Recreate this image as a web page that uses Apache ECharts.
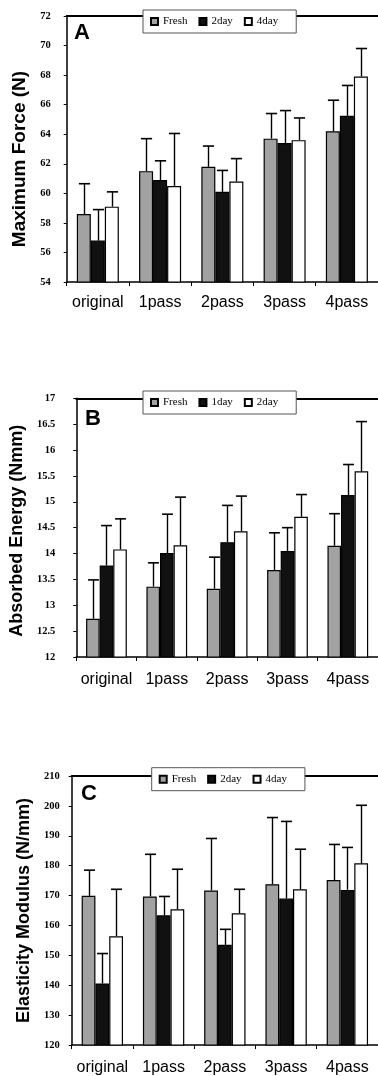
<!DOCTYPE html>
<html>
<head>
<meta charset="utf-8">
<script src="https://cdn.jsdelivr.net/npm/echarts@6/dist/echarts.min.js"></script>
<style>
html,body{margin:0;padding:0;background:#fff;}
#chart{width:378px;height:1076px;}
</style>
</head>
<body>
<div id="chart"></div>
<script>
// ---- data ----
const categories = ['original', '1pass', '2pass', '3pass', '4pass'];

// Panel A: Maximum Force (N)
const legendA = ['Fresh', '2day', '4day'];
const forceFresh = [58.6, 61.5, 61.8, 63.7, 64.2];
const forceFreshSD = [2.05, 2.2, 1.4, 1.7, 2.1];
const force2day = [56.8, 60.9, 60.1, 63.4, 65.25];
const force2daySD = [2.1, 1.3, 1.45, 2.2, 2.05];
const force4day = [59.1, 60.5, 60.8, 63.6, 67.9];
const force4daySD = [1.0, 3.55, 1.55, 1.5, 1.9];

// Panel B: Absorbed Energy (Nmm)
const legendB = ['Fresh', '1day', '2day'];
const energyFresh = [12.74, 13.36, 13.32, 13.68, 14.15];
const energyFreshSD = [0.75, 0.46, 0.61, 0.72, 0.62];
const energy1day = [13.77, 14.01, 14.22, 14.05, 15.13];
const energy1daySD = [0.77, 0.75, 0.71, 0.45, 0.59];
const energy2day = [14.08, 14.16, 14.43, 14.71, 15.59];
const energy2daySD = [0.59, 0.93, 0.68, 0.43, 0.96];

// Panel C: Elasticity Modulus (N/mm)
const legendC = ['Fresh', '2day', '4day'];
const modFresh = [169.9, 169.7, 171.7, 173.8, 175.2];
const modFreshSD = [8.6, 14.1, 17.4, 22.3, 11.9];
const mod2day = [140.6, 163.4, 153.5, 169.0, 171.9];
const mod2daySD = [10.0, 6.3, 5.2, 25.8, 14.2];
const mod4day = [156.4, 165.4, 164.1, 172.1, 180.8];
const mod4daySD = [15.7, 13.4, 8.0, 13.4, 19.4];

// ---- styles ----
const BARW = 0.225;
const serif = 'Liberation Serif';
const sans = 'Liberation Sans';
const barStyles = [
  { color: '#a2a2a2', borderColor: '#000', borderWidth: 1.2 },
  { color: '#111111', borderColor: '#000', borderWidth: 1.2 },
  { color: '#ffffff', borderColor: '#000', borderWidth: 1.2 }
];

const panels = [
  { key: 'A', title: 'Maximum Force (N)', legend: legendA, min: 54, max: 72, interval: 2,
    means: [forceFresh, force2day, force4day], sds: [forceFreshSD, force2daySD, force4daySD],
    grid: { left: 66.7, top: 16, width: 321.5, height: 266 }, yMargin: 16, xMargin: 13, nameGap: 34,
    nameSize: 19, namePad: [0, 20, 0, 0],
    legendPos: { left: 143, top: 10 }, label: { left: 74, top: 22 } },
  { key: 'B', title: 'Absorbed Energy (Nmm)', legend: legendB, min: 12, max: 17, interval: 0.5,
    means: [energyFresh, energy1day, energy2day], sds: [energyFreshSD, energy1daySD, energy2daySD],
    grid: { left: 75, top: 398.3, width: 313.5, height: 258.7 }, yMargin: 21, xMargin: 15, nameGap: 39,
    nameSize: 18, namePad: [0, 6, 0, 0],
    legendPos: { left: 143, top: 391 }, label: { left: 85, top: 408 } },
  { key: 'C', title: 'Elasticity Modulus (N/mm)', legend: legendC, min: 120, max: 210, interval: 10,
    means: [modFresh, mod2day, mod4day], sds: [modFreshSD, mod2daySD, mod4daySD],
    grid: { left: 71.7, top: 776, width: 314.5, height: 269 }, yMargin: 12, xMargin: 15, nameGap: 39,
    nameSize: 18, namePad: [0, 0, 0, 0],
    legendPos: { left: 151.7, top: 767.7 }, label: { left: 81, top: 783 } }
];

const option = {
  animation: false,
  backgroundColor: '#fff',
  grid: [], xAxis: [], yAxis: [], series: [], legend: [], title: []
};

panels.forEach((p, g) => {
  option.grid.push(Object.assign({ containLabel: false }, p.grid));
  option.xAxis.push({
    type: 'category', gridIndex: g, data: categories, position: 'bottom',
    axisLine: { lineStyle: { color: '#000', width: 1.5 } },
    axisTick: { show: true, interval: 0, length: 4, lineStyle: { color: '#000', width: 1 } },
    axisLabel: { interval: 0, color: '#000', fontFamily: sans, fontSize: 16, margin: p.xMargin }
  });
  option.xAxis.push({
    type: 'category', gridIndex: g, data: categories, position: 'top',
    axisLine: { lineStyle: { color: '#000', width: 2 } },
    axisTick: { show: false }, axisLabel: { show: false }
  });
  option.yAxis.push({
    type: 'value', gridIndex: g, min: p.min, max: p.max, interval: p.interval,
    name: p.title, nameLocation: 'middle', nameGap: p.nameGap,
    nameTextStyle: { color: '#000', fontFamily: sans, fontSize: p.nameSize, fontWeight: 'bold', padding: p.namePad },
    splitLine: { show: false },
    axisLine: { show: true, lineStyle: { color: '#000', width: 1.5 } },
    axisTick: { show: true, length: 3, lineStyle: { color: '#000' } },
    axisLabel: { color: '#000', fontFamily: serif, fontSize: 10.5, fontWeight: 'bold', margin: p.yMargin }
  });
  option.title.push({
    text: p.key, left: p.label.left, top: p.label.top, padding: 0,
    textStyle: { fontFamily: sans, fontSize: 22, fontWeight: 'bold', color: '#000' }
  });
  option.legend.push({
    data: p.legend.map(n => p.key + '-' + n),
    formatter: name => name.slice(2),
    left: p.legendPos.left, top: p.legendPos.top, orient: 'horizontal',
    icon: 'rect', itemWidth: 7, itemHeight: 7, itemGap: 11,
    padding: [6, 18, 6, 7],
    backgroundColor: '#fff', borderColor: '#555', borderWidth: 1,
    selectedMode: false,
    textStyle: { fontFamily: serif, fontSize: 11, color: '#000' },
    z: 10
  });
  p.legend.forEach((n, s) => {
    option.series.push({
      type: 'bar', name: p.key + '-' + n, xAxisIndex: 2 * g, yAxisIndex: g,
      data: p.means[s], barWidth: (BARW * 100) + '%', barGap: '0%',
      itemStyle: barStyles[s], z: 2
    });
  });
  p.legend.forEach((n, s) => {
    option.series.push({
      type: 'custom', name: p.key + '-' + n + '-err', xAxisIndex: 2 * g, yAxisIndex: g,
      data: p.means[s].map((m, i) => [i, m, p.sds[s][i]]),
      encode: { x: 0, y: 1 }, z: 3, silent: true,
      renderItem: (params, api) => {
        const ci = api.value(0), m = api.value(1), sd = api.value(2);
        const base = api.coord([ci, m]);
        const top = api.coord([ci, m + sd]);
        const band = api.size([1, 0])[0];
        const bw = band * BARW;
        const x = Math.round(base[0] + (s - 1) * bw) + 0.5;
        const cap = bw * 0.8;
        return {
          type: 'group',
          children: [
            { type: 'line', shape: { x1: x, y1: base[1], x2: x, y2: top[1] }, style: { stroke: '#000', lineWidth: 1.4 } },
            { type: 'line', shape: { x1: x - cap / 2, y1: top[1], x2: x + cap / 2, y2: top[1] }, style: { stroke: '#000', lineWidth: 1.6 } }
          ]
        };
      }
    });
  });
});

const chart = echarts.init(document.getElementById('chart'), null, { renderer: 'canvas' });
chart.setOption(option);
</script>
</body>
</html>
